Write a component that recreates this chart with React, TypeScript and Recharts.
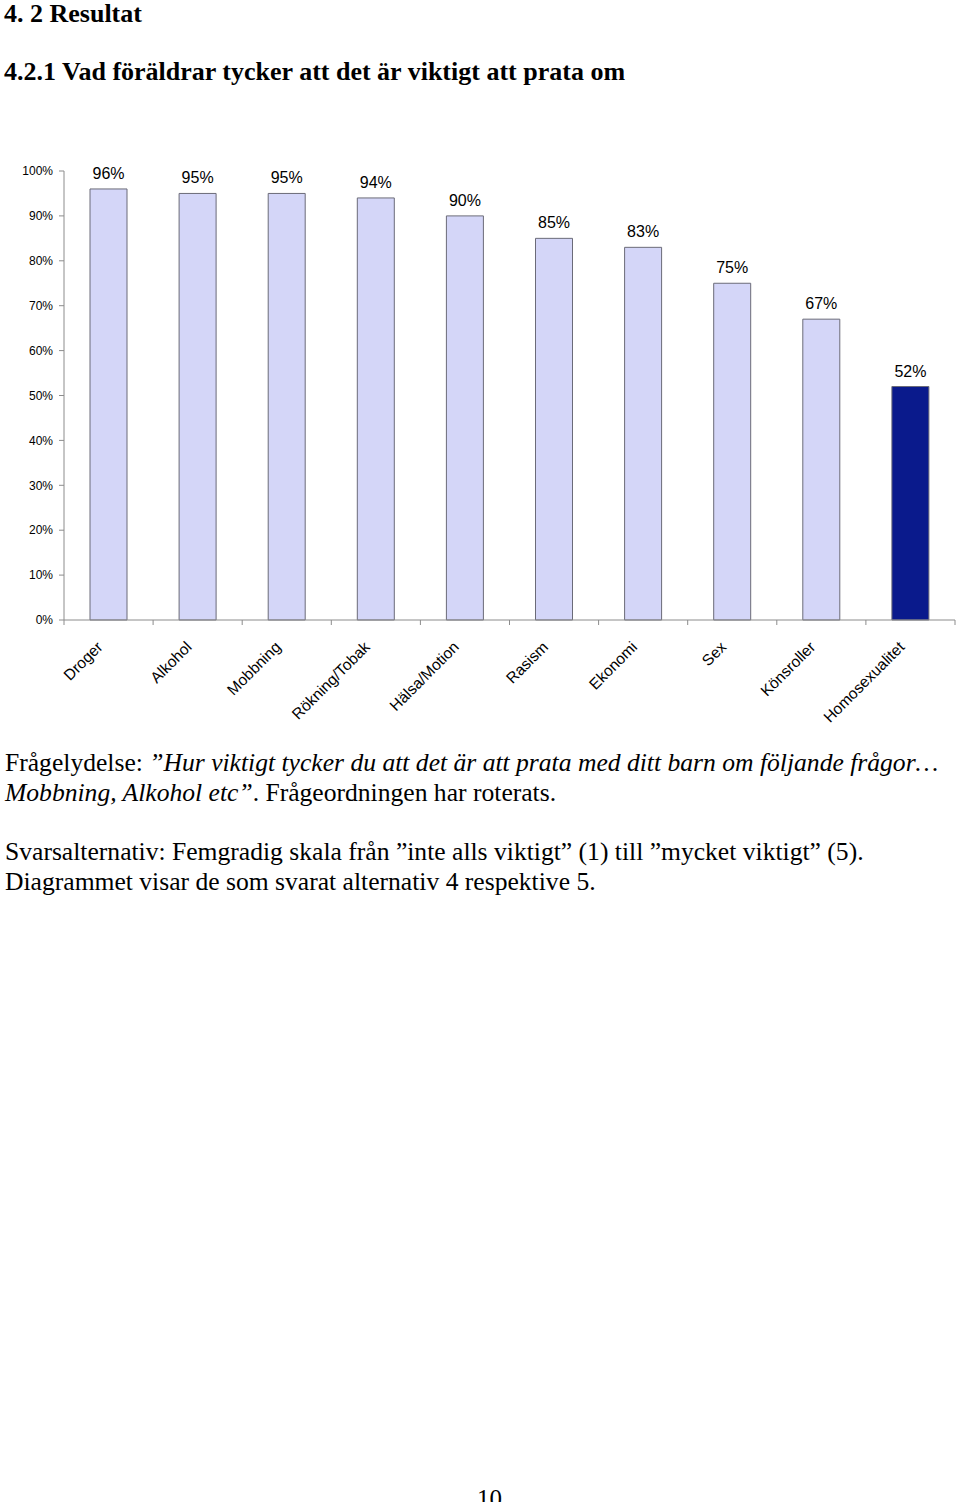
import React from "react";
import { BarChart, Bar, XAxis, YAxis, Cell, LabelList } from "recharts";

const categories = ["Droger", "Alkohol", "Mobbning", "Rökning/Tobak", "Hälsa/Motion", "Rasism", "Ekonomi", "Sex", "Könsroller", "Homosexualitet"];
const shares = [96, 95, 95, 94, 90, 85, 83, 75, 67, 52];
const yTicks = [0, 10, 20, 30, 40, 50, 60, 70, 80, 90, 100];
const highlighted = ["Homosexualitet"];

const data = categories.map((name, i) => ({ name, value: shares[i] }));

const AXIS = "#8c8c8c";
const serif = "'Liberation Serif', 'Times New Roman', serif";
const sans = "'Liberation Sans', Arial, sans-serif";

function CategoryTick(props: any) {
  const { x, y, payload, index } = props;
  const step = 891 / categories.length;
  const left = x - step / 2;
  const tx = x - 5;
  const ty = y + 20;
  return (
    <g>
      <line x1={left} y1={y - 8} x2={left} y2={y - 3} stroke={AXIS} />
      {index === categories.length - 1 && (
        <line x1={x + step / 2} y1={y - 8} x2={x + step / 2} y2={y - 3} stroke={AXIS} />
      )}
      <text
        x={tx}
        y={ty}
        textAnchor="end"
        fontSize={15.5}
        fontFamily={sans}
        fill="#000"
        transform={`rotate(-45, ${tx}, ${ty})`}
      >
        {payload.value}
      </text>
    </g>
  );
}

export default function App() {
  return (
    <div style={{ position: "absolute", left: 0, top: 0, width: 960, height: 1502, background: "#fff", overflow: "hidden" }}>
      <div style={{ position: "absolute", left: 4, top: -1, fontFamily: serif, fontWeight: "bold", fontSize: 26, lineHeight: "30px" }}>4. 2 Resultat</div>
      <div style={{ position: "absolute", left: 4, top: 57, fontFamily: serif, fontWeight: "bold", fontSize: 26, lineHeight: "30px" }}>
        4.2.1 Vad föräldrar tycker att det är viktigt att prata om
      </div>

      <div style={{ position: "absolute", left: 0, top: 0 }}>
        <BarChart width={960} height={740} data={data} margin={{ top: 171, right: 5, bottom: 0, left: 0 }}>
          <YAxis
            domain={[0, 100]}
            ticks={yTicks}
            width={64}
            tickFormatter={(v) => `${v}%`}
            tickSize={5}
            tickMargin={6}
            stroke={AXIS}
            tick={{ fill: "#000", fontSize: 12, fontFamily: sans }}
            interval={0}
          />
          <XAxis
            dataKey="name"
            height={120}
            stroke={AXIS}
            tickLine={false}
            interval={0}
            tick={<CategoryTick />}
          />
          <Bar dataKey="value" barSize={37} stroke="#6b6b78" strokeWidth={1} isAnimationActive={false}>
            {data.map((d) => (
              <Cell key={d.name} fill={highlighted.includes(d.name) ? "#0a1a8c" : "#d4d6f8"} />
            ))}
            <LabelList
              dataKey="value"
              position="top"
              offset={10}
              formatter={(v: any) => `${v}%`}
              style={{ fill: "#000", fontSize: 16, fontFamily: sans }}
            />
          </Bar>
        </BarChart>
      </div>

      <div style={{ position: "absolute", left: 5, top: 748, fontFamily: serif, fontSize: 25.6, lineHeight: "30px", whiteSpace: "nowrap" }}>
        <div>
          Frågelydelse: <i>”Hur viktigt tycker du att det är att prata med ditt barn om följande frågor…</i>
        </div>
        <div>
          <i>Mobbning, Alkohol etc”</i>. Frågeordningen har roterats.
        </div>
        <div style={{ height: 29 }} />
        <div>Svarsalternativ: Femgradig skala från ”inte alls viktigt” (1) till ”mycket viktigt” (5).</div>
        <div>Diagrammet visar de som svarat alternativ 4 respektive 5.</div>
      </div>

      <div style={{ position: "absolute", left: 477, top: 1484, fontFamily: serif, fontSize: 25, lineHeight: "30px" }}>10</div>
    </div>
  );
}
